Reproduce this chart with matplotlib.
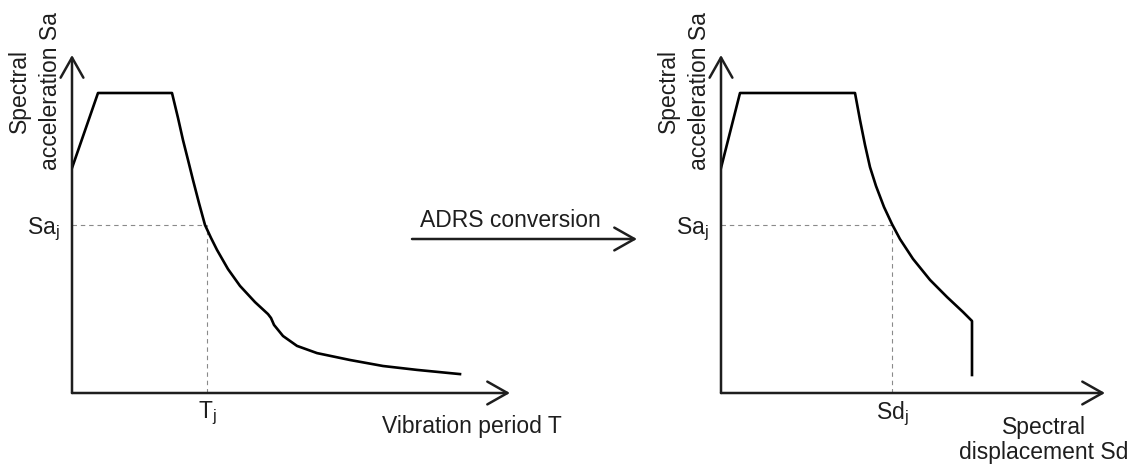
import matplotlib.pyplot as plt

plt.rcParams["font.family"] = ["Liberation Sans", "DejaVu Sans"]
plt.rcParams["mathtext.fontset"] = "custom"
plt.rcParams["mathtext.rm"] = "Liberation Sans"

# response spectrum, Sa over period T (Sa normalised to the plateau)
period = [0, 0.26, 1.00, 1.06, 1.11, 1.16, 1.21, 1.27, 1.33, 1.39, 1.45, 1.56,
          1.68, 1.83, 1.96, 1.99, 2.02, 2.11, 2.25, 2.45, 2.78, 3.11, 3.45, 3.88]
sa_period = [0.75, 1.0, 1.0, 0.917, 0.843, 0.777, 0.71, 0.633, 0.56, 0.517,
             0.477, 0.413, 0.357, 0.303, 0.263, 0.25, 0.227, 0.19, 0.157,
             0.133, 0.11, 0.09, 0.077, 0.063]

# same spectrum in ADRS format, Sa over Sd
disp = [0, 0.19, 1.34, 1.39, 1.44, 1.49, 1.55, 1.63, 1.71, 1.79, 1.92, 2.09,
        2.26, 2.42, 2.51, 2.51]
sa_disp = [0.75, 1.0, 1.0, 0.91, 0.827, 0.753, 0.69, 0.62, 0.563, 0.513, 0.447,
           0.377, 0.32, 0.27, 0.24, 0.06]

t_j = 1.35
sd_j = 1.71
sa_j = 0.56

W, H = 1137, 466
FS = 16.5
INK = "#1e1e1e"

fig = plt.figure(figsize=(W / 100, H / 100), dpi=100)


def make_panel(left, right, x_tick, x_mark, y_pos, y_tick):
    ax = fig.add_axes([left / W, 73 / H, (right - left) / W, 338 / H])
    ax.set_xlim(0, (right - left) / 100)
    ax.set_ylim(0, 338 / 300)
    for s in ax.spines.values():
        s.set_visible(False)

    arrow = dict(arrowstyle="->,head_length=1.45,head_width=0.82", lw=1.8,
                 color=INK, shrinkA=0, shrinkB=0, mutation_scale=10)
    ax.annotate("", xy=(1, 0), xytext=(0, 0), xycoords="axes fraction",
                arrowprops=arrow, annotation_clip=False)
    ax.annotate("", xy=(0, 1), xytext=(0, 0), xycoords="axes fraction",
                arrowprops=arrow, annotation_clip=False)

    # dashed guide lines to the marked point
    ax.plot([0, x_mark], [sa_j, sa_j], ls=(0, (4, 3.5)), lw=0.8, color="#8a8a8a")
    ax.plot([x_mark, x_mark], [0, sa_j], ls=(0, (4, 3.5)), lw=0.8, color="#8a8a8a")

    ax.set_xticks([x_mark], [x_tick])
    ax.set_yticks([sa_j], [y_tick])
    ax.tick_params(length=0, labelsize=FS, labelcolor=INK)
    ax.tick_params(axis="x", pad=5)
    ax.tick_params(axis="y", pad=9)

    fig.text(y_pos / W, 1 - 91 / H, "Spectral\nacceleration Sa", rotation=90,
             ha="center", va="center", fontsize=FS, color=INK, linespacing=1.45)
    return ax


ax1 = make_panel(72, 510, r"$\mathregular{T_j}$", t_j, 35, r"$\mathregular{Sa_j}$")
ax1.plot(period, sa_period, color="black", lw=1.9, solid_joinstyle="round")
fig.text(382 / W, 1 - 433 / H, "Vibration period T", ha="left", va="baseline",
         fontsize=FS, color=INK)

ax2 = make_panel(721, 1105, r"$\mathregular{Sd_j}$", sd_j, 684, r"$\mathregular{Sa_j}$")
ax2.plot(disp, sa_disp, color="black", lw=1.9, solid_joinstyle="round")
fig.text(1044 / W, 1 - 440 / H, "Spectral\ndisplacement Sd", ha="center", va="center",
         fontsize=FS, color=INK, linespacing=1.15)

# conversion arrow between the two panels
fig.text(510 / W, 1 - 227 / H, "ADRS conversion", ha="center", va="baseline",
         fontsize=FS, color=INK)
fig.patches.append(plt.matplotlib.patches.FancyArrowPatch(
    (412 / W, 1 - 239 / H), (637 / W, 1 - 239 / H), transform=fig.transFigure,
    arrowstyle="->,head_length=1.45,head_width=0.82", mutation_scale=10,
    lw=1.8, color=INK, shrinkA=0, shrinkB=0))

fig.savefig("out.png", dpi=100, facecolor="white")
